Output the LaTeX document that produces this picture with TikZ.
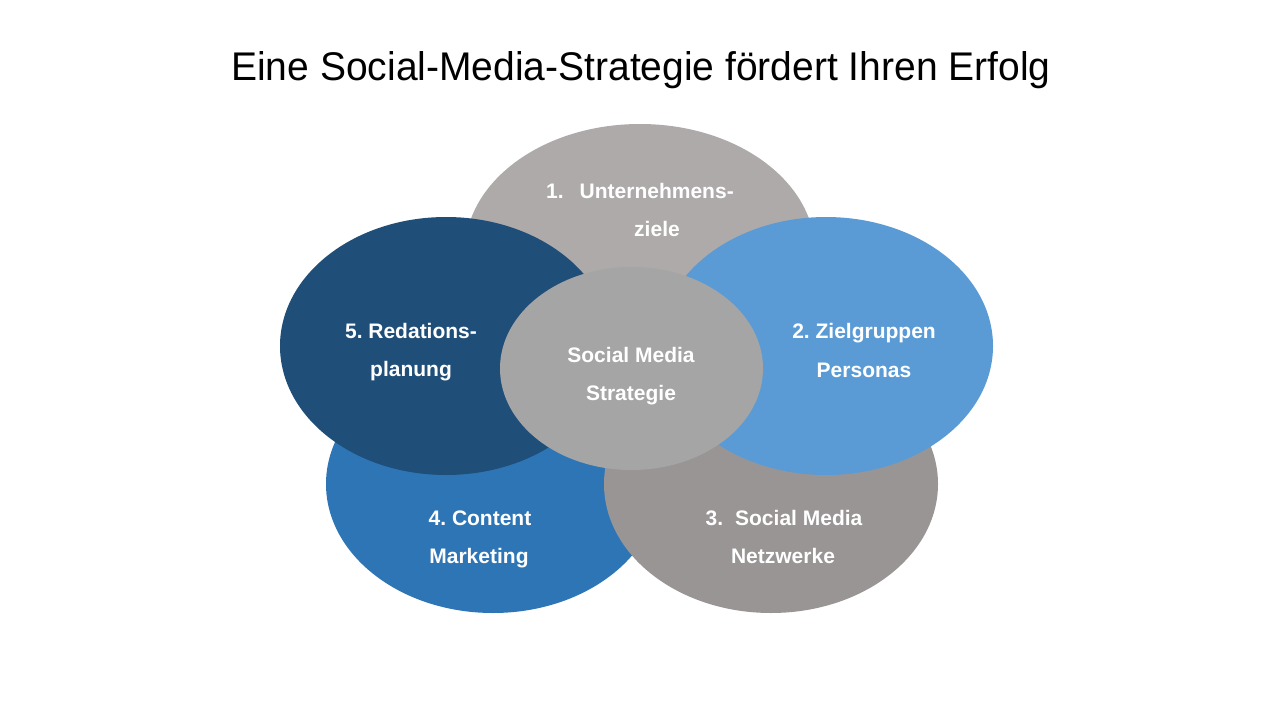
\documentclass[tikz,border=0pt]{standalone}
\usepackage{fontspec}
\setmainfont{Liberation Sans}
\newfontfamily\titlefont[FakeStretch=0.975]{Liberation Sans}
\usetikzlibrary{shapes.geometric}
\frenchspacing
\definecolor{cTop}{HTML}{AEAAAA}
\definecolor{cNet}{HTML}{999595}
\definecolor{cCont}{HTML}{2E75B6}
\definecolor{cRed}{HTML}{1F4E79}
\definecolor{cZiel}{HTML}{5B9BD5}
\definecolor{cMid}{HTML}{A5A5A5}
\tikzset{
  blob/.style={ellipse, draw=none, inner sep=0pt},
  lbl/.style={text=white, font=\fontsize{21}{25}\selectfont\bfseries, anchor=base, inner sep=0pt},
}
\begin{document}
\begin{tikzpicture}[x=1pt,y=-1pt]
\useasboundingbox (0,0) rectangle (1280,720);
\fill[white] (0,0) rectangle (1280,720);
% title
\node[anchor=base, inner sep=0pt, font=\titlefont\fontsize{40}{48}\selectfont] (title) at (641,80) {Eine Social-Media-Strategie fördert Ihren Erfolg};
% ellipses
\node[blob, fill=cTop, minimum width=350pt, minimum height=256pt] (e1) at (640,252) {};
\node[blob, fill=cCont, minimum width=334pt, minimum height=258pt] (e4) at (493,484) {};
\node[blob, fill=cNet, minimum width=334pt, minimum height=258pt] (e3) at (771,484) {};
\node[blob, fill=cRed, minimum width=332pt, minimum height=258pt] (e5) at (446,346) {};
\node[blob, fill=cZiel, minimum width=334pt, minimum height=258pt] (e2) at (826,346) {};
\node[blob, fill=cMid, minimum width=263pt, minimum height=203pt] (ec) at (631.5,368.5) {};
% texts
\node[lbl] (t1a) at (640,198) {1.\hspace{16pt}Unternehmens-};
\node[lbl] (t1b) at (657,236) {ziele};
\node[lbl] (t5a) at (411,338) {5. Redations-};
\node[lbl] (t5b) at (411,376) {planung};
\node[lbl] (tca) at (631,362) {Social Media};
\node[lbl] (tcb) at (631,400) {Strategie};
\node[lbl] (t2a) at (864,338) {2. Zielgruppen};
\node[lbl] (t2b) at (864,377) {Personas};
\node[lbl] (t4a) at (480,525) {4. Content};
\node[lbl] (t4b) at (479,563) {Marketing};
\node[lbl] (t3a) at (784,525) {3.\hspace{12pt}Social Media};
\node[lbl] (t3b) at (783,563) {Netzwerke};
\end{tikzpicture}
\end{document}
